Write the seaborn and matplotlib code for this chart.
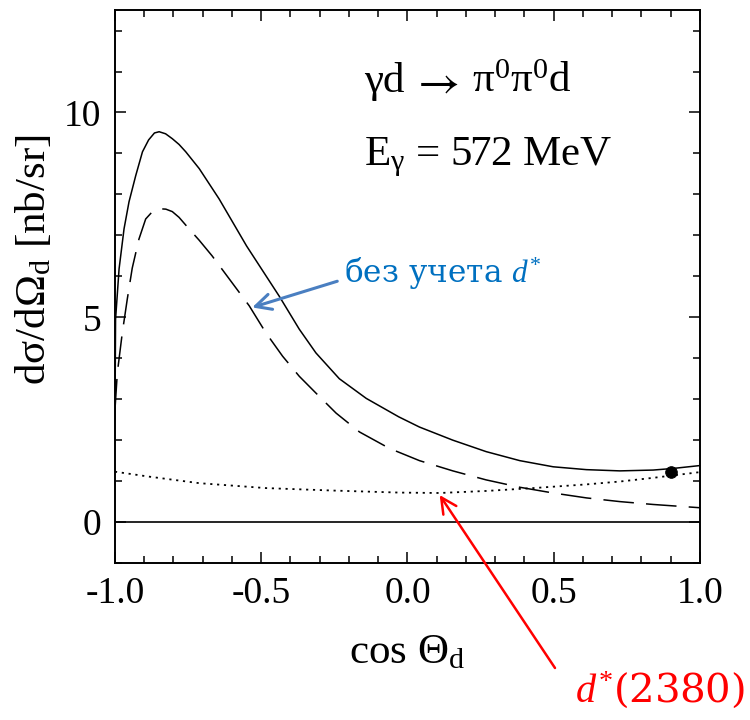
import matplotlib
matplotlib.use("Agg")
import matplotlib.pyplot as plt
import seaborn as sns

# ---- data ----
solid_x = [-1.0, -0.998, -0.986, -0.969, -0.952, -0.929, -0.906, -0.885, -0.865,
           -0.849, -0.827, -0.804, -0.781, -0.758, -0.712, -0.644, -0.55, -0.438,
           -0.37, -0.313, -0.233, -0.141, -0.03, 0.041, 0.155, 0.269, 0.384, 0.498,
           0.612, 0.726, 0.84, 0.909, 1.0]
solid_y = [2.5, 4.95, 6.18, 7.16, 7.82, 8.46, 9.04, 9.33, 9.50,
           9.53, 9.48, 9.36, 9.22, 9.04, 8.63, 7.89, 6.74, 5.51,
           4.71, 4.13, 3.50, 3.02, 2.57, 2.32, 2.00, 1.72, 1.50, 1.35,
           1.28, 1.25, 1.27, 1.31, 1.38]

dash_x = [-1.0, -0.992, -0.975, -0.958, -0.941, -0.918, -0.895, -0.872, -0.849,
          -0.826, -0.804, -0.781, -0.747, -0.712, -0.668, -0.541, -0.484, -0.427,
          -0.37, -0.313, -0.244, -0.164, -0.062, 0.041, 0.155, 0.269, 0.384,
          0.498, 0.612, 0.726, 0.84, 1.0]
dash_y = [2.75, 3.64, 4.62, 5.44, 6.2, 6.91, 7.40, 7.58, 7.65,
          7.64, 7.58, 7.44, 7.16, 6.88, 6.5, 5.28, 4.62, 4.05,
          3.56, 3.15, 2.66, 2.20, 1.80, 1.50, 1.25, 1.03, 0.85,
          0.71, 0.59, 0.50, 0.43, 0.35]

dot_x = [-1.0, -0.884, -0.712, -0.484, -0.256, -0.027, 0.11, 0.269, 0.43, 0.612,
         0.726, 0.84, 1.0]
dot_y = [1.23, 1.11, 0.95, 0.83, 0.77, 0.72, 0.71, 0.76, 0.83, 0.92,
         0.99, 1.08, 1.22]

point_x = [0.9]
point_y = [1.23]

x_ticks = [-1.0, -0.5, 0.0, 0.5, 1.0]
x_ticklabels = ["-1.0", "-0.5", "0.0", "0.5", "1.0"]
y_ticks = [0, 5, 10]
y_ticklabels = ["0", "5", "10"]

# ---- style ----
sns.set_theme(style="ticks")
plt.rcParams["font.family"] = ["Liberation Serif", "DejaVu Serif"]
plt.rcParams["mathtext.fontset"] = "custom"
plt.rcParams["mathtext.rm"] = "Liberation Serif"
plt.rcParams["mathtext.it"] = "Liberation Serif:italic"
plt.rcParams["mathtext.fallback"] = "stix"
plt.rcParams["axes.linewidth"] = 1.4
for key in ["text.color", "axes.labelcolor", "xtick.color", "ytick.color",
            "axes.edgecolor"]:
    plt.rcParams[key] = "black"

fig = plt.figure(figsize=(7.5, 7.2), dpi=100)
ax = fig.add_axes([0.1533, 0.218, 0.78, 0.768])

lw = 1.1
sns.lineplot(x=solid_x, y=solid_y, ax=ax, color="black", lw=lw, sort=False,
             estimator=None)
sns.lineplot(x=dash_x, y=dash_y, ax=ax, color="black", lw=lw, sort=False,
             estimator=None, linestyle=(0, (20, 8)))
sns.lineplot(x=dot_x, y=dot_y, ax=ax, color="black", lw=1.3, sort=False,
             estimator=None, linestyle=(0, (1.2, 2.6)))
ax.axhline(0, color="black", lw=1.2)
sns.scatterplot(x=point_x, y=point_y, ax=ax, color="black", s=70,
                edgecolor="black", zorder=5)

ax.set_xlim(-1.0, 1.0)
ax.set_ylim(-1.0, 12.5)
ax.set_xticks(x_ticks)
ax.set_xticklabels(x_ticklabels)
ax.set_yticks(y_ticks)
ax.set_yticklabels(y_ticklabels)
ax.set_xticks([v / 10 for v in range(-10, 11)], minor=True)
ax.set_yticks(list(range(-1, 13)), minor=True)
ax.tick_params(which="both", direction="in", top=True, right=True,
               labelsize=27, width=1.1, color="black")
ax.tick_params(which="major", length=8)
ax.tick_params(which="minor", length=5)
ax.tick_params(axis="x", which="major", pad=10)
ax.tick_params(axis="y", which="major", pad=10)
for s in ax.spines.values():
    s.set_visible(True)
    s.set_color("black")
    s.set_linewidth(1.4)

ax.set_xlabel(r"cos Θ$_{\mathrm{d}}$", fontsize=31, labelpad=16)
ax.set_ylabel(r"dσ/dΩ$_{\mathrm{d}}$ [nb/sr]", fontsize=31, va="center")
ax.yaxis.set_label_coords(-0.138, 0.548)

# reaction label in three pieces: "γd", a long thin arrow, "π0π0d"
ax.text(-0.15, 10.75, "γd", fontsize=31, ha="left", va="center")
ax.text(0.108, 10.68, "→", fontsize=33, ha="center", va="center",
        family=["STIXGeneral"])
ax.text(0.22, 10.75, r"π$^{0}$π$^{0}$d", fontsize=31, ha="left", va="center")
ax.text(-0.15, 8.9, r"E$_{\mathrm{γ}}$ = 572 MeV", fontsize=31, ha="left",
        va="center")

blue = "#0070C0"
ax.text(-0.216, 6.05, r"без учета $d^{*}$", fontsize=22.5, color=blue,
        ha="left", va="center", family=["DejaVu Serif"])
ax.annotate("", xy=(-0.531, 5.24), xytext=(-0.24, 5.88),
            arrowprops=dict(arrowstyle="->", color="#4a7fc1", lw=2.2,
                            mutation_scale=28, shrinkA=0, shrinkB=0))

red = "#FF0000"
fig.text(575 / 750, 30 / 720, r"$d^{*}$(2380)", fontsize=29, color=red,
         ha="left", va="center", family=["DejaVu Serif"])
ax.annotate("", xy=(0.11, 0.66), xytext=(555, 52), textcoords="figure pixels",
            arrowprops=dict(arrowstyle="->", color=red, lw=1.8,
                            mutation_scale=28, shrinkA=0, shrinkB=0),
            annotation_clip=False)

fig.savefig("out.png", dpi=100)
